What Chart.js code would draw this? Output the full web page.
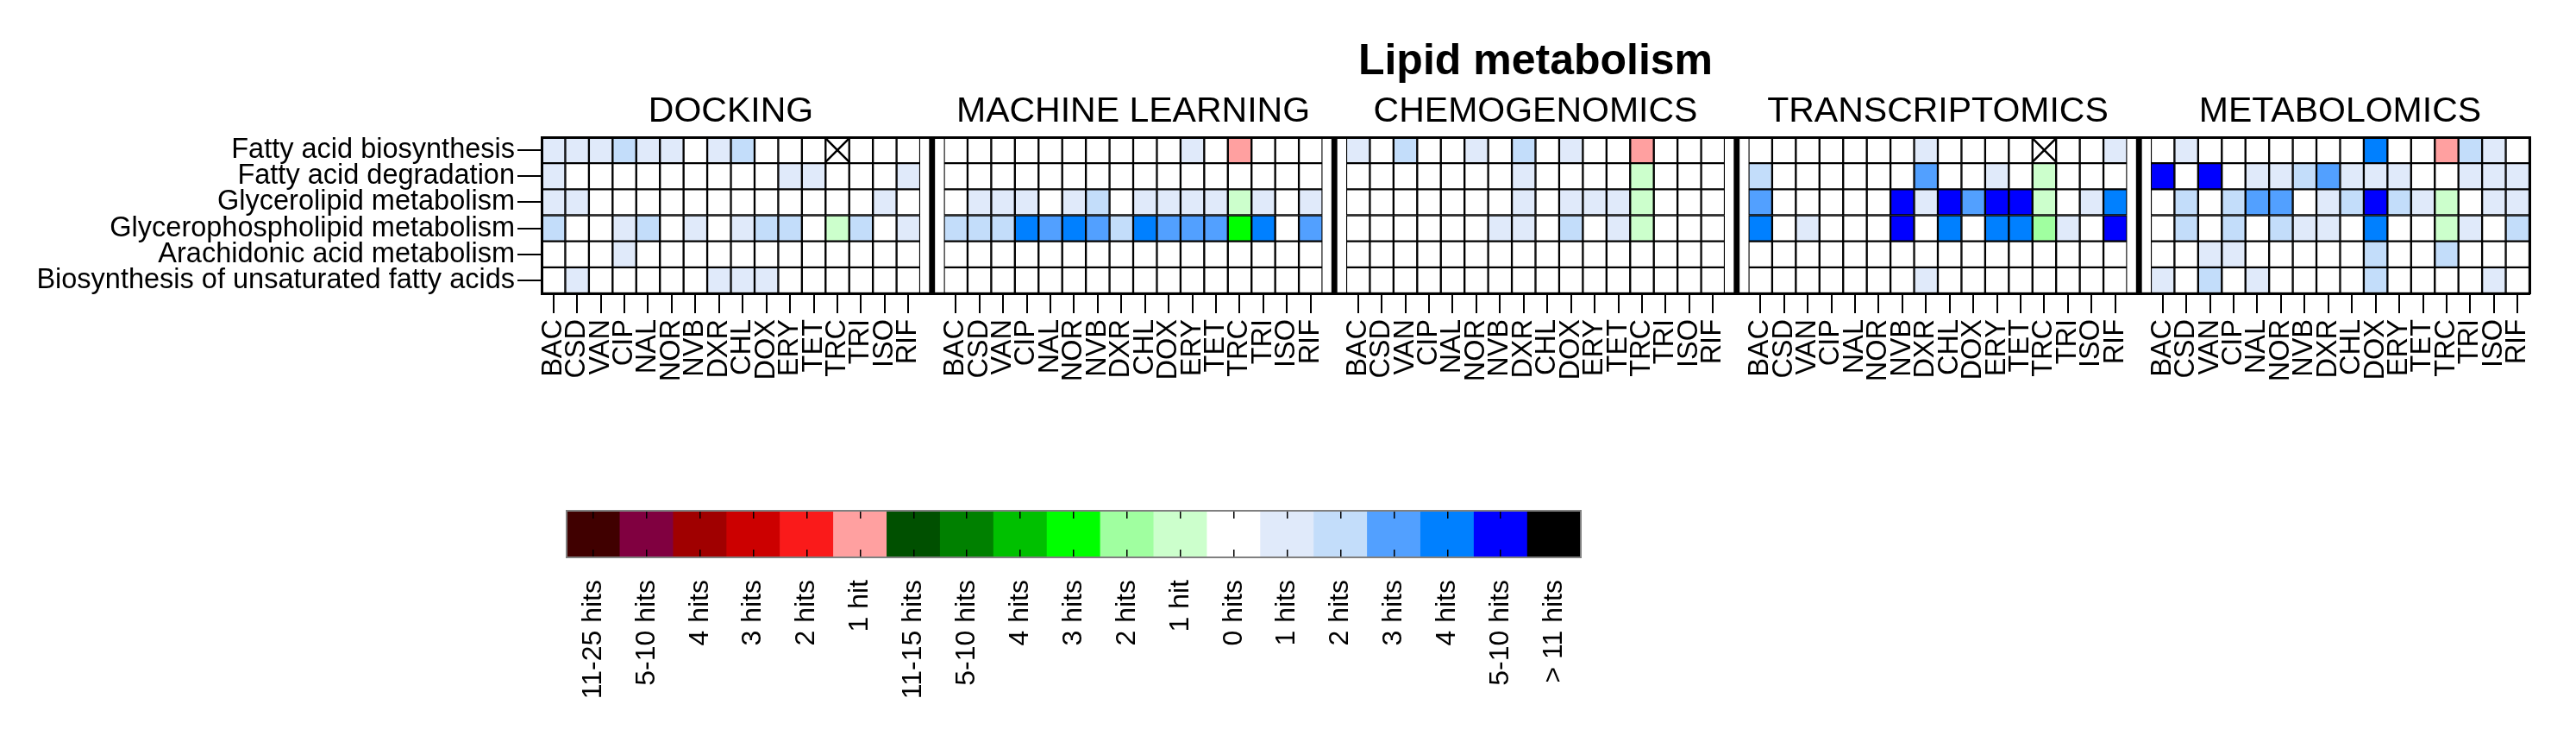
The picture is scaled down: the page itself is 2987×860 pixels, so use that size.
<!DOCTYPE html>
<html>
<head>
<meta charset="utf-8">
<title>Lipid metabolism</title>
<script src="https://cdn.jsdelivr.net/npm/chart.js@4.4.1/dist/chart.umd.min.js"></script>
<style>
    html, body { margin: 0; padding: 0; background: #fff; }
    body { width: 2987px; height: 860px; position: relative; overflow: hidden; }
    .box { position: absolute; left: 0; }
    #heat-box { top: 0; }
    #key-box { top: 540px; }
</style>
</head>
<body>
<div class="box" id="heat-box"><canvas id="heatChart" width="2987" height="560"></canvas></div>
<div class="box" id="key-box"><canvas id="keyChart" width="2987" height="320"></canvas></div>
<script>
// Data
const panels = ['DOCKING', 'MACHINE LEARNING', 'CHEMOGENOMICS', 'TRANSCRIPTOMICS', 'METABOLOMICS'];
const drugs = ['BAC', 'CSD', 'VAN', 'CIP', 'NAL', 'NOR', 'NVB', 'DXR', 'CHL', 'DOX', 'ERY', 'TET', 'TRC', 'TRI', 'ISO', 'RIF'];
const pathways = [
    'Fatty acid biosynthesis',
    'Fatty acid degradation',
    'Glycerolipid metabolism',
    'Glycerophospholipid metabolism',
    'Arachidonic acid metabolism',
    'Biosynthesis of unsaturated fatty acids'
];

// numbers = blue hit level, 'gN' = green level, 'rN' = red level, 'NA' = crossed cell
const docking = [
    [1, 1, 1, 2, 1, 1, 0, 1, 2, 0, 0, 0, 'NA', 0, 0, 0],
    [1, 0, 0, 0, 0, 0, 0, 0, 0, 0, 1, 1, 0, 0, 0, 1],
    [1, 1, 0, 0, 0, 0, 0, 0, 0, 0, 0, 0, 0, 0, 1, 0],
    [2, 0, 0, 1, 2, 0, 1, 0, 1, 2, 2, 0, 'g1', 2, 0, 1],
    [0, 0, 0, 1, 0, 0, 0, 0, 0, 0, 0, 0, 0, 0, 0, 0],
    [0, 1, 0, 0, 0, 0, 0, 1, 1, 1, 0, 0, 0, 0, 0, 0]
];
const machineLearning = [
    [0, 0, 0, 0, 0, 0, 0, 0, 0, 0, 1, 0, 'r1', 0, 0, 0],
    [0, 0, 0, 0, 0, 0, 0, 0, 0, 0, 0, 0, 0, 0, 0, 0],
    [0, 1, 1, 1, 0, 1, 2, 0, 1, 1, 1, 1, 'g1', 1, 0, 1],
    [2, 2, 2, 4, 3, 4, 3, 2, 4, 3, 3, 3, 'g3', 4, 0, 3],
    [0, 0, 0, 0, 0, 0, 0, 0, 0, 0, 0, 0, 0, 0, 0, 0],
    [0, 0, 0, 0, 0, 0, 0, 0, 0, 0, 0, 0, 0, 0, 0, 0]
];
const chemogenomics = [
    [1, 0, 2, 0, 0, 1, 0, 2, 0, 1, 0, 0, 'r1', 0, 0, 0],
    [0, 0, 0, 0, 0, 0, 0, 1, 0, 0, 0, 0, 'g1', 0, 0, 0],
    [0, 0, 0, 0, 0, 0, 0, 1, 0, 1, 1, 1, 'g1', 0, 0, 0],
    [0, 0, 0, 0, 0, 0, 1, 1, 0, 2, 0, 1, 'g1', 0, 0, 0],
    [0, 0, 0, 0, 0, 0, 0, 0, 0, 0, 0, 0, 0, 0, 0, 0],
    [0, 0, 0, 0, 0, 0, 0, 0, 0, 0, 0, 0, 0, 0, 0, 0]
];
const transcriptomics = [
    [0, 0, 0, 0, 0, 0, 0, 1, 0, 0, 0, 0, 'NA', 0, 0, 1],
    [2, 0, 0, 0, 0, 0, 0, 3, 0, 0, 1, 0, 'g1', 0, 0, 0],
    [3, 0, 0, 0, 0, 0, 5, 1, 5, 3, 5, 5, 'g1', 0, 1, 4],
    [4, 0, 1, 0, 0, 0, 5, 0, 4, 0, 4, 4, 'g2', 1, 0, 5],
    [0, 0, 0, 0, 0, 0, 0, 0, 0, 0, 0, 0, 0, 0, 0, 0],
    [0, 0, 0, 0, 0, 0, 0, 1, 0, 0, 0, 0, 0, 0, 0, 0]
];
const metabolomics = [
    [0, 1, 0, 0, 0, 0, 0, 0, 0, 4, 0, 0, 'r1', 2, 1, 0],
    [5, 0, 5, 0, 1, 1, 2, 3, 1, 1, 1, 0, 0, 1, 1, 1],
    [0, 2, 0, 2, 3, 3, 0, 1, 2, 5, 2, 1, 'g1', 0, 1, 1],
    [0, 2, 0, 2, 0, 2, 1, 1, 0, 4, 0, 0, 'g1', 1, 0, 2],
    [0, 0, 1, 1, 0, 0, 0, 0, 0, 2, 0, 0, 2, 0, 0, 0],
    [1, 0, 2, 0, 1, 0, 0, 0, 0, 2, 0, 0, 0, 0, 1, 0]
];
const panelData = [docking, machineLearning, chemogenomics, transcriptomics, metabolomics];

const legendLabels = ['11-25 hits', '5-10 hits', '4 hits', '3 hits', '2 hits', '1 hit',
    '11-15 hits', '5-10 hits', '4 hits', '3 hits', '2 hits', '1 hit',
    '0 hits', '1 hits', '2 hits', '3 hits', '4 hits', '5-10 hits', '> 11 hits'];
const legendColors = ['#400000', '#800040', '#a00000', '#cc0000', '#fa1a1a', '#ffa0a0',
    '#005000', '#008000', '#00c000', '#00ff00', '#a0ffa0', '#ccffcc',
    '#ffffff', '#e0eafa', '#c3ddfa', '#52a0ff', '#0080ff', '#0000ff', '#000000'];

Chart.defaults.font.family = "'Liberation Sans', Arial, sans-serif";
Chart.defaults.color = '#000';

function cellColor(v) {
    if (v === 'NA' || v === 0) return legendColors[12];
    if (typeof v === 'number') return legendColors[12 + v];
    const n = parseInt(v.slice(1), 10);
    if (v[0] === 'g') return legendColors[12 - n];
    return legendColors[6 - n];
}

// Columns: 16 drugs per panel, one spacer column between panels
const columns = [];
panels.forEach((p, pi) => {
    drugs.forEach((d, di) => columns.push({ panel: pi, drug: di, sep: false }));
    if (pi < panels.length - 1) columns.push({ sep: true });
});
const xLabels = columns.map(c => c.sep ? '' : drugs[c.drug]);
const cellValue = (c, r) => panelData[c.panel][r][c.drug];

const barBase = { type: 'bar', grouped: false, barPercentage: 1, categoryPercentage: 1, borderSkipped: false };

const datasets = [];
pathways.forEach((name, r) => {
    datasets.push({
        ...barBase,
        label: name,
        order: 3,
        data: columns.map(c => c.sep ? null : [r, r + 1]),
        backgroundColor: columns.map(c => c.sep ? 'rgba(0,0,0,0)' : cellColor(cellValue(c, r))),
        borderColor: '#000',
        borderWidth: 1.5
    });
    // crossed (missing) cells
    const crosses = columns.map(c => !c.sep && cellValue(c, r) === 'NA' ? r + 0.5 : null);
    if (crosses.some(v => v !== null)) {
        datasets.push({
            type: 'line',
            label: name + ' NA',
            order: 0,
            data: crosses,
            showLine: false,
            pointStyle: 'crossRot',
            pointRadius: 20,
            pointBorderWidth: 2.5,
            pointBorderColor: '#000',
            pointBackgroundColor: 'rgba(0,0,0,0)'
        });
    }
});
// spacer columns between panels
datasets.push({
    ...barBase,
    label: 'spacer',
    order: 2,
    data: columns.map(c => c.sep ? [0, pathways.length] : null),
    backgroundColor: '#fff',
    borderColor: '#000',
    borderWidth: { top: 1.5, bottom: 1.5, left: 0, right: 0 }
});
datasets.push({
    ...barBase,
    label: 'divider',
    order: 1,
    barPercentage: 0.25,
    data: columns.map(c => c.sep ? [0, pathways.length] : null),
    backgroundColor: '#000',
    borderWidth: 0
});

new Chart(document.getElementById('heatChart'), {
    type: 'bar',
    data: { labels: xLabels, datasets: datasets },
    options: {
        responsive: false,
        animation: false,
        events: [],
        layout: { padding: { left: 0, right: 54, top: 0, bottom: 0 } },
        plugins: {
            legend: { display: false },
            tooltip: { enabled: false },
            title: {
                display: true,
                text: 'Lipid metabolism',
                fullSize: false,
                color: '#000',
                font: { size: 50, weight: 'bold' },
                padding: { top: 42, bottom: 0 }
            }
        },
        scales: {
            x: {
                type: 'category',
                position: 'bottom',
                offset: true,
                grid: {
                    display: true, drawOnChartArea: false, drawTicks: true,
                    tickLength: 23, offset: false, lineWidth: 2,
                    color: ctx => columns[ctx.index] && columns[ctx.index].sep ? 'rgba(0,0,0,0)' : '#000'
                },
                border: { display: true, color: '#000', width: 3, z: 1 },
                ticks: { autoSkip: false, minRotation: 90, maxRotation: 90, padding: 7, font: { size: 32.5 } },
                afterFit: s => { s.height = 220; }
            },
            x2: {
                type: 'linear',
                position: 'top',
                offset: false,
                min: -0.5,
                max: columns.length - 0.5,
                grid: { display: true, drawOnChartArea: false, drawTicks: false, offset: false },
                border: { display: true, color: '#000', width: 3, z: 1 },
                ticks: { autoSkip: false, padding: 4.5, font: { size: 41 }, callback: (v, i) => panels[i] },
                afterBuildTicks: s => { s.ticks = panels.map((p, i) => ({ value: i * (drugs.length + 1) + (drugs.length - 1) / 2 })); },
                afterFit: s => { s.height = 57; }
            },
            y: {
                type: 'linear',
                position: 'left',
                reverse: true,
                min: 0,
                max: pathways.length,
                grid: { display: true, drawOnChartArea: false, drawTicks: true, tickLength: 28, lineWidth: 2, color: '#000' },
                border: { display: true, color: '#000', width: 3, z: 1 },
                ticks: { autoSkip: false, padding: 3, font: { size: 32.5 }, callback: (v, i) => pathways[i] },
                afterBuildTicks: s => { s.ticks = pathways.map((n, i) => ({ value: i + 0.5 })); },
                afterFit: s => { s.width = 628; }
            },
            y2: {
                type: 'linear',
                position: 'right',
                min: 0,
                max: pathways.length,
                grid: { display: true, drawOnChartArea: false, drawTicks: false },
                border: { display: true, color: '#000', width: 3, z: 1 },
                ticks: { display: false },
                afterFit: s => { s.width = 0; }
            }
        }
    }
});

// Colour key
const keyTicks = {
    display: true, drawOnChartArea: false, drawTicks: true,
    tickLength: -9, offset: false, color: '#000', lineWidth: 1.5, z: 1
};
const keyBorder = { display: true, color: '#808080', width: 2, z: 1 };

new Chart(document.getElementById('keyChart'), {
    type: 'bar',
    data: {
        labels: legendLabels,
        datasets: [{
            data: legendLabels.map(() => [0, 1]),
            backgroundColor: legendColors,
            borderWidth: 0,
            barPercentage: 1,
            categoryPercentage: 1
        }]
    },
    options: {
        responsive: false,
        animation: false,
        events: [],
        layout: { padding: { left: 657, right: 1154, top: 52, bottom: 0 } },
        plugins: { legend: { display: false }, tooltip: { enabled: false } },
        scales: {
            x: {
                position: 'bottom',
                offset: true,
                grid: keyTicks,
                border: keyBorder,
                ticks: { autoSkip: false, minRotation: 90, maxRotation: 90, padding: 35, font: { size: 32 } },
                afterFit: s => { s.height = 214; }
            },
            x2: {
                type: 'category',
                position: 'top',
                offset: true,
                grid: keyTicks,
                border: keyBorder,
                ticks: { display: false },
                afterFit: s => { s.height = 0; }
            },
            y: {
                min: 0, max: 1,
                grid: { display: true, drawOnChartArea: false, drawTicks: false },
                border: keyBorder,
                ticks: { display: false },
                afterFit: s => { s.width = 0; }
            },
            y2: {
                type: 'linear',
                position: 'right',
                min: 0, max: 1,
                grid: { display: true, drawOnChartArea: false, drawTicks: false },
                border: keyBorder,
                ticks: { display: false },
                afterFit: s => { s.width = 0; }
            }
        }
    }
});
</script>
</body>
</html>
